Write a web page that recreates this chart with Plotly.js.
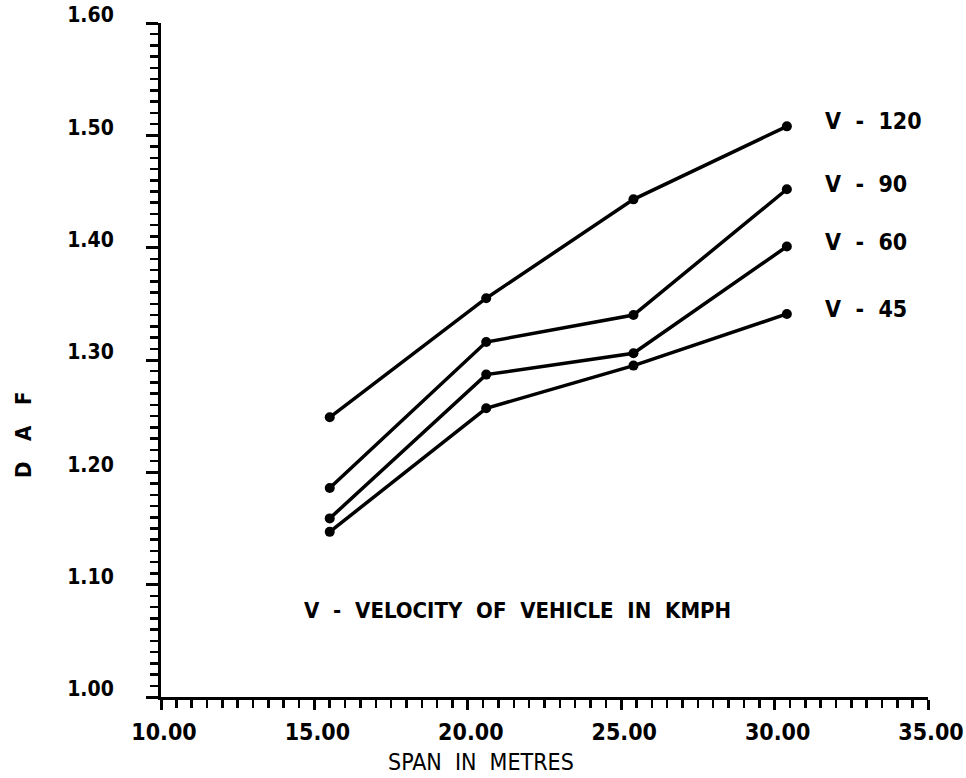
<!DOCTYPE html>
<html>
<head>
<meta charset="utf-8">
<script src="https://cdn.plot.ly/plotly-3.0.1.min.js"></script>
<style>html,body{margin:0;padding:0;background:#fff;}#chart{width:966px;height:778px;}</style>
</head>
<body>
<div id="chart"></div>
<script>
// Span (m) positions
const spanX = [15.5, 20.6, 25.4, 30.4];
// DAF values per velocity series
const v120 = [1.249, 1.355, 1.443, 1.508];
const v90  = [1.186, 1.316, 1.340, 1.452];
const v60  = [1.159, 1.287, 1.306, 1.401];
const v45  = [1.147, 1.257, 1.295, 1.341];
const seriesNames = ['V  -  120', 'V  -  90', 'V  -  60', 'V  -  45'];
const seriesData = [v120, v90, v60, v45];
const xTicks = [10, 15, 20, 25, 30, 35];
const yTicks = [1.00, 1.10, 1.20, 1.30, 1.40, 1.50, 1.60];

const FONT = 'DejaVu Sans Condensed, DejaVu Sans, sans-serif';

const traces = seriesData.map((ys, i) => ({
  x: spanX, y: ys, name: seriesNames[i], type: 'scatter', mode: 'lines+markers',
  line: {color: '#000', width: 3.5},
  marker: {color: '#000', size: 10},
  showlegend: false
}));

const annotations = seriesData.map((ys, i) => ({
  x: spanX[spanX.length - 1], y: ys[ys.length - 1], xref: 'x', yref: 'y',
  text: seriesNames[i], showarrow: false, xanchor: 'left', yanchor: 'middle',
  xshift: 36, yshift: 5,
  font: {family: FONT, size: 23, color: '#000', weight: 'bold'}
}));
annotations.push({
  x: 0.184, y: 0.129, xref: 'paper', yref: 'paper', xanchor: 'left', yanchor: 'middle',
  text: 'V  -  VELOCITY  OF  VEHICLE  IN  KMPH', showarrow: false,
  font: {family: FONT, size: 22, color: '#000', weight: 'bold'}
});
annotations.push({
  x: -0.18, y: 0.39, xref: 'paper', yref: 'paper', xanchor: 'center', yanchor: 'middle',
  text: 'D   A   F', showarrow: false, textangle: -90,
  font: {family: FONT, size: 22, color: '#000', weight: 'bold'}
});
annotations.push({
  x: 0.417, y: -0.097, xref: 'paper', yref: 'paper', xanchor: 'center', yanchor: 'middle',
  text: 'SPAN  IN  METRES', showarrow: false,
  font: {family: FONT, size: 23, color: '#000'}
});

const layout = {
  width: 966, height: 778,
  margin: {l: 161, r: 38, t: 23, b: 81},
  paper_bgcolor: '#fff', plot_bgcolor: '#fff',
  showlegend: false,
  font: {family: FONT, color: '#000'},
  xaxis: {
    range: [10, 35], tickvals: xTicks, ticktext: xTicks.map(v => v.toFixed(2)),
    showgrid: false, zeroline: false, showline: true, linecolor: '#000', linewidth: 3,
    ticks: 'outside', ticklen: 10, tickwidth: 3, tickcolor: '#000',
    minor: {dtick: 0.5, ticks: 'outside', ticklen: 8, tickwidth: 2.5, tickcolor: '#000', showgrid: false},
    ticklabelshift: 3, ticklabelstandoff: 2, ticklabeloverflow: 'allow',
    tickfont: {family: FONT, size: 23, color: '#000', weight: 'bold'}
  },
  yaxis: {
    range: [1.0, 1.6], tickvals: yTicks, ticktext: yTicks.map(v => v.toFixed(2)),
    showgrid: false, zeroline: false, showline: true, linecolor: '#000', linewidth: 3,
    ticks: 'outside', ticklen: 12, tickwidth: 3, tickcolor: '#000',
    minor: {dtick: 0.01, ticks: 'outside', ticklen: 8, tickwidth: 2.5, tickcolor: '#000', showgrid: false},
    ticklabelshift: -8, ticklabelstandoff: 28, ticklabeloverflow: 'allow',
    tickfont: {family: FONT, size: 21, color: '#000', weight: 'bold'}
  },
  annotations: annotations
};

Plotly.newPlot('chart', traces, layout, {displayModeBar: false, staticPlot: true});
</script>
</body>
</html>
